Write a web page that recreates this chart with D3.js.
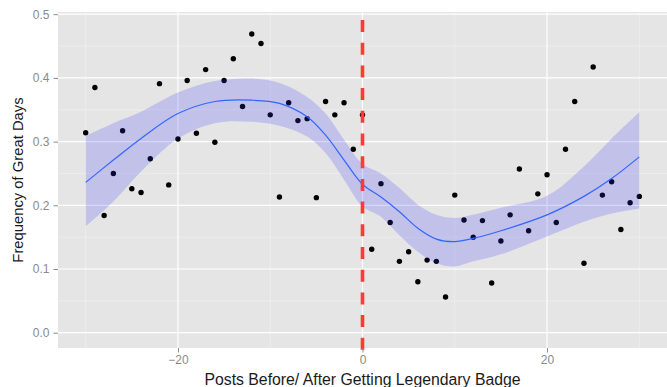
<!DOCTYPE html>
<html>
<head>
<meta charset="utf-8">
<script src="https://cdn.jsdelivr.net/npm/d3@7"></script>
<style>
  html, body { margin: 0; padding: 0; background: #ffffff; }
  svg { display: block; font-family: "Liberation Sans", Arial, sans-serif; }
</style>
</head>
<body>
<svg id="chart" width="667" height="387"></svg>
<script>
// Posts relative to the badge (negative = before, positive = after)
const posts = [-30,-29,-28,-27,-26,-25,-24,-23,-22,-21,-20,-19,-18,-17,-16,-15,-14,-13,-12,-11,
               -10,-9,-8,-7,-6,-5,-4,-3,-2,-1,0,1,2,3,4,5,6,7,8,9,10,
               11,12,13,14,15,16,17,18,19,20,21,22,23,24,25,26,27,28,29,30];
// Share of great days at each post offset
const frequency = [0.314,0.385,0.184,0.250,0.317,0.226,0.220,0.273,0.391,0.232,0.304,0.396,0.313,0.413,0.299,0.396,0.430,0.355,0.469,0.454,
                   0.342,0.213,0.361,0.333,0.336,0.212,0.363,0.342,0.361,0.288,0.342,0.131,0.234,0.173,0.112,0.127,0.080,0.114,0.112,0.056,0.216,
                   0.177,0.150,0.176,0.078,0.144,0.185,0.257,0.160,0.218,0.248,0.173,0.288,0.363,0.109,0.417,0.216,0.237,0.162,0.204,0.214];

// Smoothed trend with its confidence band
const smoothX     = [-30,-27,-24,-20,-16,-12,-9,-6,-4,-2,0,2,4,6,8,10,12,15,20,24,27,30];
const smoothFit   = [0.236,0.271,0.305,0.344,0.363,0.365,0.360,0.339,0.310,0.271,0.233,0.213,0.190,0.164,0.147,0.143,0.148,0.160,0.185,0.214,0.242,0.276];
const smoothUpper = [0.309,0.329,0.347,0.377,0.395,0.399,0.392,0.370,0.344,0.303,0.265,0.250,0.227,0.201,0.185,0.180,0.185,0.196,0.215,0.261,0.305,0.346];
const smoothLower = [0.167,0.206,0.253,0.305,0.329,0.331,0.325,0.308,0.282,0.240,0.198,0.182,0.153,0.127,0.109,0.104,0.112,0.123,0.151,0.174,0.187,0.195];

// Axis ticks
const xMajor = [-20, 0, 20];
const xMinor = [-30, -10, 10, 30];
const yMajor = [0, 0.1, 0.2, 0.3, 0.4, 0.5];
const yMinor = [0.05, 0.15, 0.25, 0.35, 0.45];
const badgePost = 0;

const panel = { left: 58, right: 667, top: 12, bottom: 348 };

const x = d3.scaleLinear().domain([-33, 33]).range([panel.left, panel.right]);
const y = d3.scaleLinear().domain([0, 0.5]).range([332.7, 14.2]);

const svg = d3.select("#chart");

// Panel background
svg.append("rect")
  .attr("x", panel.left).attr("y", panel.top)
  .attr("width", panel.right - panel.left).attr("height", panel.bottom - panel.top)
  .attr("fill", "#e5e5e5");

// Grid
const grid = svg.append("g");
grid.selectAll(".xmin").data(xMinor).join("line")
  .attr("x1", d => x(d)).attr("x2", d => x(d))
  .attr("y1", panel.top).attr("y2", panel.bottom)
  .attr("stroke", "#f2f2f2").attr("stroke-width", 0.6);
grid.selectAll(".ymin").data(yMinor).join("line")
  .attr("x1", panel.left).attr("x2", panel.right)
  .attr("y1", d => y(d)).attr("y2", d => y(d))
  .attr("stroke", "#f2f2f2").attr("stroke-width", 0.6);
grid.selectAll(".xmaj").data(xMajor).join("line")
  .attr("x1", d => x(d)).attr("x2", d => x(d))
  .attr("y1", panel.top).attr("y2", panel.bottom)
  .attr("stroke", "#ffffff").attr("stroke-width", 1.2);
grid.selectAll(".ymaj").data(yMajor).join("line")
  .attr("x1", panel.left).attr("x2", panel.right)
  .attr("y1", d => y(d)).attr("y2", d => y(d))
  .attr("stroke", "#ffffff").attr("stroke-width", 1.2);

// Points
const pts = posts.map((p, i) => ({ p, f: frequency[i] }));
svg.append("g").selectAll("circle").data(pts).join("circle")
  .attr("cx", d => x(d.p)).attr("cy", d => y(d.f))
  .attr("r", 2.7).attr("fill", "#000000");

// Confidence band and fitted line
const sm = smoothX.map((p, i) => ({ p, fit: smoothFit[i], lo: smoothLower[i], hi: smoothUpper[i] }));
const curve = d3.curveCatmullRom.alpha(0.5);
svg.append("path").datum(sm)
  .attr("d", d3.area().x(d => x(d.p)).y0(d => y(d.lo)).y1(d => y(d.hi)).curve(curve))
  .attr("fill", "#3333ff").attr("fill-opacity", 0.2);
svg.append("path").datum(sm)
  .attr("d", d3.line().x(d => x(d.p)).y(d => y(d.fit)).curve(curve))
  .attr("fill", "none").attr("stroke", "#3366ff").attr("stroke-width", 1.2);

// Badge marker
svg.append("line")
  .attr("x1", x(badgePost)).attr("x2", x(badgePost))
  .attr("y1", 20).attr("y2", 352)
  .attr("stroke", "#ff3b2f").attr("stroke-width", 3.6)
  .attr("stroke-dasharray", "12,10.7");

// Axes
const axisColor = "#8a8a8a";
const yAxis = svg.append("g").attr("transform", `translate(${panel.left},0)`)
  .call(d3.axisLeft(y).tickValues(yMajor).tickFormat(d3.format(".1f")).tickSize(4.5).tickPadding(4));
const xAxis = svg.append("g").attr("transform", `translate(0,${panel.bottom})`)
  .call(d3.axisBottom(x).tickValues(xMajor).tickFormat(d3.format("d")).tickSize(4.5).tickPadding(3));
[yAxis, xAxis].forEach(a => {
  a.select(".domain").remove();
  a.selectAll(".tick line").attr("stroke", axisColor);
  a.selectAll(".tick text").attr("fill", axisColor).attr("font-size", 12)
    .attr("font-family", "Liberation Sans, Arial, sans-serif");
});

// Axis titles
svg.append("text")
  .attr("x", x(0)).attr("y", 385)
  .attr("text-anchor", "middle").attr("font-size", 15.8).attr("fill", "#1a1a1a")
  .text("Posts Before/ After Getting Legendary Badge");
svg.append("text")
  .attr("transform", `translate(23,${(panel.top + panel.bottom) / 2}) rotate(-90)`)
  .attr("text-anchor", "middle").attr("font-size", 14.8).attr("fill", "#1a1a1a")
  .text("Frequency of Great Days");
</script>
</body>
</html>
